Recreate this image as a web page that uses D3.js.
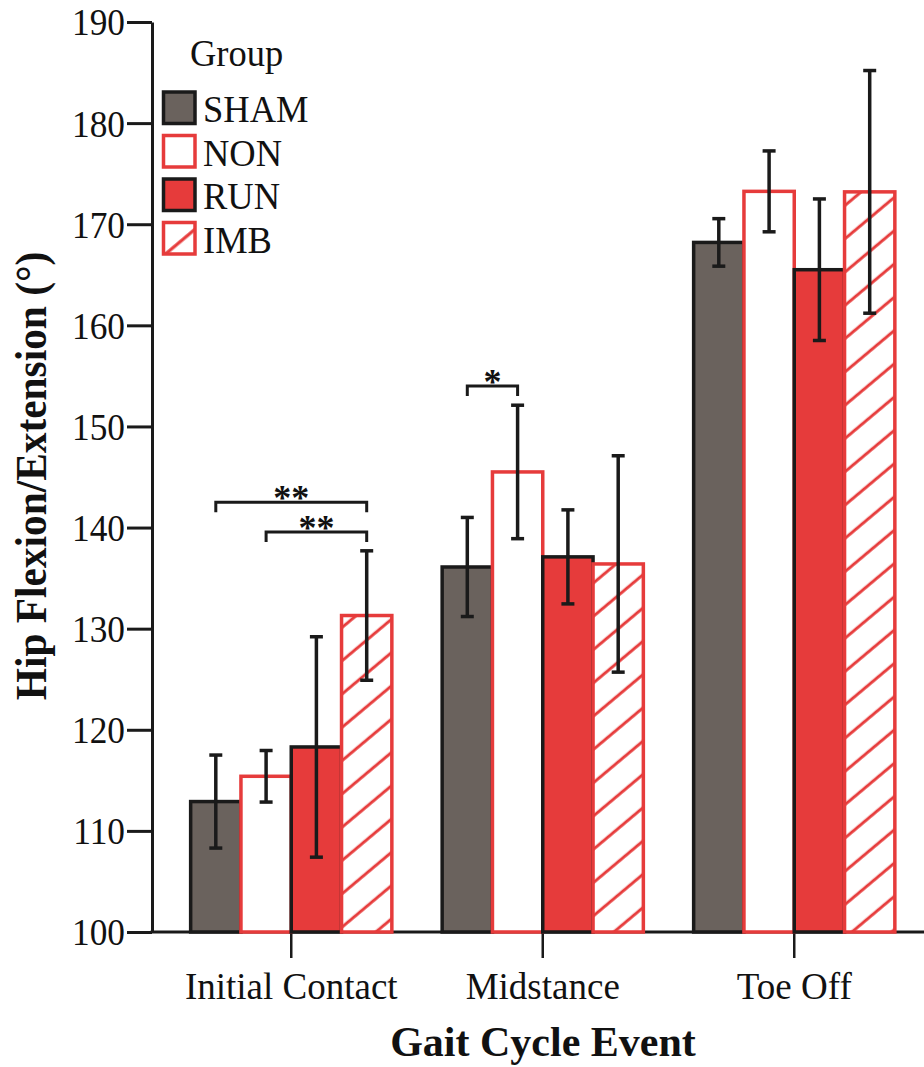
<!DOCTYPE html>
<html>
<head>
<meta charset="utf-8">
<script src="https://cdn.jsdelivr.net/npm/d3@7"></script>
<style>
  html, body { margin: 0; padding: 0; background: #fff; }
  svg { display: block; }
  text { font-family: "Liberation Serif", "Times New Roman", serif; fill: #111; }
</style>
</head>
<body>
<svg id="chart" width="924" height="1067"></svg>
<script>
// ---- data ----
const categories = ["Initial Contact", "Midstance", "Toe Off"];
const groups = ["SHAM", "NON", "RUN", "IMB"];
const shamMean = [112.9, 136.1, 168.2];
const shamErr  = [4.6, 4.9, 2.35];
const nonMean  = [115.4, 145.5, 173.25];
const nonErr   = [2.55, 6.6, 4.0];
const runMean  = [118.3, 137.1, 165.5];
const runErr   = [10.9, 4.65, 7.0];
const imbMean  = [131.3, 136.4, 173.2];
const imbErr   = [6.4, 10.7, 12.0];
const yTicks = [100, 110, 120, 130, 140, 150, 160, 170, 180, 190];
const sigBrackets = [
  { cat: "Initial Contact", from: "SHAM", to: "IMB", y: 142.5, label: "**" },
  { cat: "Initial Contact", from: "NON",  to: "IMB", y: 139.55, label: "**" },
  { cat: "Midstance",       from: "SHAM", to: "NON", y: 154.0, label: "*" }
];

const means = { SHAM: shamMean, NON: nonMean, RUN: runMean, IMB: imbMean };
const errs  = { SHAM: shamErr,  NON: nonErr,  RUN: runErr,  IMB: imbErr };

const RED = "#e63b3b", GRAY = "#6a625d", BLACK = "#1a1a1a";
const styles = {
  SHAM: { fill: GRAY, stroke: BLACK },
  NON:  { fill: "#ffffff", stroke: RED },
  RUN:  { fill: RED, stroke: BLACK },
  IMB:  { fill: "url(#hatch)", stroke: RED }
};

const svg = d3.select("#chart");

function squeeze(sel, f) {
  sel.each(function () {
    const w = this.getComputedTextLength();
    d3.select(this).attr("textLength", w * f).attr("lengthAdjust", "spacingAndGlyphs");
  });
}

// hatch patterns
const defs = svg.append("defs");
function makeHatch(id, off) {
  const pat = defs.append("pattern")
    .attr("id", id)
    .attr("patternUnits", "userSpaceOnUse")
    .attr("width", 60).attr("height", 25.5)
    .attr("patternTransform", "rotate(-40)");
  pat.append("rect").attr("width", 60).attr("height", 25.5).attr("fill", "#fff");
  pat.append("line").attr("x1", 0).attr("x2", 60).attr("y1", off).attr("y2", off)
    .attr("stroke", RED).attr("stroke-width", 3);
}
makeHatch("hatch", 12);
makeHatch("hatchLegend", 20.5);

// scales
const y = d3.scaleLinear().domain([100, 190]).range([932, 22]);
const x0 = d3.scaleBand().domain(categories).range([165.5, 920])
  .paddingInner(0.2).paddingOuter(0.1);
const x1 = d3.scaleBand().domain(groups).range([0, x0.bandwidth()]).padding(0);

// y axis
const yAxis = d3.axisLeft(y).tickValues(yTicks).tickSize(25).tickPadding(2).tickSizeOuter(0);
const gy = svg.append("g").attr("transform", "translate(152,0)").call(yAxis);
gy.select(".domain").attr("stroke", BLACK).attr("stroke-width", 3);
gy.selectAll(".tick line").attr("stroke", BLACK).attr("stroke-width", 3);
gy.selectAll(".tick text").attr("font-size", 38).attr("font-family", "Liberation Serif")
  .attr("fill", "#111").attr("dy", "0.34em").call(squeeze, 0.93);

// x axis
const xAxis = d3.axisBottom(x0).tickSize(26).tickPadding(8).tickSizeOuter(0);
const gx = svg.append("g").attr("transform", "translate(0,932)").call(xAxis);
gx.select(".domain").attr("d", "M150.5,0H924").attr("stroke", BLACK).attr("stroke-width", 3);
gx.selectAll(".tick line").attr("stroke", BLACK).attr("stroke-width", 2.5);
gx.selectAll(".tick text").attr("font-size", 37).attr("font-family", "Liberation Serif")
  .attr("fill", "#111").attr("dy", "0.88em");

// bars
const data = [];
categories.forEach((c, i) => groups.forEach(g => data.push({ cat: c, g, v: means[g][i], e: errs[g][i] })));

svg.append("g").selectAll("rect").data(data).join("rect")
  .attr("x", d => x0(d.cat) + x1(d.g))
  .attr("y", d => y(d.v))
  .attr("width", x1.bandwidth())
  .attr("height", d => y(100) - y(d.v))
  .attr("fill", d => styles[d.g].fill)
  .attr("stroke", d => styles[d.g].stroke)
  .attr("stroke-width", 3.5);

// error bars
const cx = d => x0(d.cat) + x1(d.g) + x1.bandwidth() / 2;
const eg = svg.append("g").attr("stroke", BLACK).attr("stroke-width", 3.5);
eg.selectAll(".ev").data(data).join("line")
  .attr("x1", cx).attr("x2", cx)
  .attr("y1", d => y(d.v + d.e)).attr("y2", d => y(d.v - d.e));
eg.selectAll(".et").data(data).join("line")
  .attr("x1", d => cx(d) - 6.5).attr("x2", d => cx(d) + 6.5)
  .attr("y1", d => y(d.v + d.e)).attr("y2", d => y(d.v + d.e));
eg.selectAll(".eb").data(data).join("line")
  .attr("x1", d => cx(d) - 6.5).attr("x2", d => cx(d) + 6.5)
  .attr("y1", d => y(d.v - d.e)).attr("y2", d => y(d.v - d.e));

// significance brackets
const bx = (c, g) => x0(c) + x1(g) + x1.bandwidth() / 2;
const bg = svg.append("g");
sigBrackets.forEach(b => {
  const xa = bx(b.cat, b.from), xb = bx(b.cat, b.to), yy = y(b.y);
  bg.append("path")
    .attr("d", `M${xa},${yy + 10}V${yy}H${xb}V${yy + 10}`)
    .attr("fill", "none").attr("stroke", BLACK).attr("stroke-width", 3);
  bg.append("text")
    .attr("x", (xa + xb) / 2).attr("y", yy + 8)
    .attr("text-anchor", "middle")
    .attr("font-size", 36).attr("font-weight", "bold")
    .text(b.label);
});

// axis titles
svg.append("text")
  .attr("x", 543).attr("y", 1056)
  .attr("text-anchor", "middle")
  .attr("font-size", 42).attr("font-weight", "bold")
  .text("Gait Cycle Event");

svg.append("text")
  .attr("transform", "translate(46,476) rotate(-90)")
  .attr("text-anchor", "middle")
  .attr("font-size", 44).attr("font-weight", "bold")
  .text("Hip Flexion/Extension (°)")
  .call(squeeze, 0.94);

// legend
const lg = svg.append("g");
lg.append("text").attr("x", 190).attr("y", 66).attr("font-size", 38).text("Group").call(squeeze, 0.96);
groups.forEach((g, i) => {
  const yy = 92 + i * 43.5;
  lg.append("rect")
    .attr("x", 163.5).attr("y", yy).attr("width", 31.5).attr("height", 31.5)
    .attr("fill", g === "IMB" ? "url(#hatchLegend)" : styles[g].fill)
    .attr("stroke", styles[g].stroke).attr("stroke-width", 3.5);
  lg.append("text").attr("x", 203).attr("y", yy + 30).attr("font-size", 38).text(g).call(squeeze, 0.96);
});
</script>
</body>
</html>
